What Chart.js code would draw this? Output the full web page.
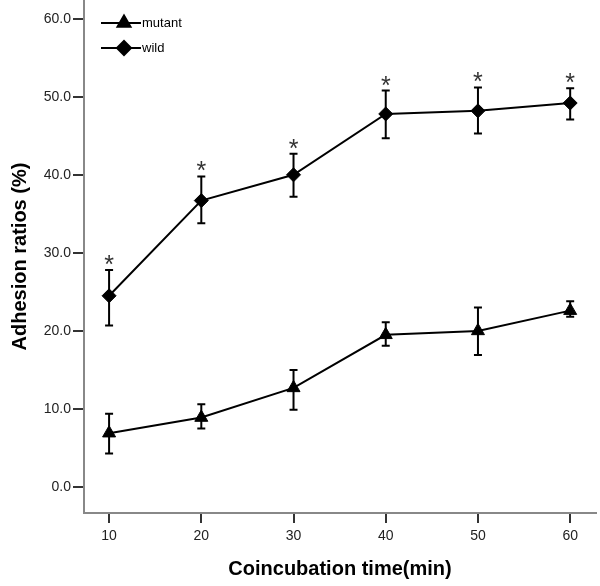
<!DOCTYPE html>
<html>
<head>
<meta charset="utf-8">
<script src="https://cdn.jsdelivr.net/npm/chart.js@4/dist/chart.umd.min.js"></script>
<style>
  body { margin: 0; background: #fff; }
  #wrap { width: 600px; height: 586px; }
</style>
</head>
<body>
<div id="wrap"><canvas id="grafica" width="600" height="586"></canvas></div>
<script>
// datos
const times = [10, 20, 30, 40, 50, 60];
const mutantMean = [6.9, 8.9, 12.7, 19.5, 20.0, 22.6];
const mutantHigh = [9.4, 10.6, 15.0, 21.1, 23.0, 23.8];
const mutantLow = [4.3, 7.5, 9.9, 18.1, 16.9, 21.8];
const wildMean = [24.5, 36.7, 40.0, 47.8, 48.2, 49.2];
const wildHigh = [27.8, 39.8, 42.7, 50.8, 51.2, 51.1];
const wildLow = [20.7, 33.8, 37.2, 44.7, 45.3, 47.1];
const wildSignificant = [true, true, true, true, true, true];
const seriesNames = ["mutant", "wild"];

const FONT = "'Liberation Sans', Arial, sans-serif";

const toPoints = (ys) => times.map((t, i) => ({ x: t, y: ys[i] }));

// barras de error y asteriscos
const errorBars = {
  id: "errorBars",
  afterDatasetsDraw(chart) {
    const ctx = chart.ctx;
    const yScale = chart.scales.y;
    chart.data.datasets.forEach((ds, di) => {
      const meta = chart.getDatasetMeta(di);
      meta.data.forEach((pt, i) => {
        const top = yScale.getPixelForValue(ds.errHigh[i]);
        const bot = yScale.getPixelForValue(ds.errLow[i]);
        ctx.save();
        ctx.strokeStyle = "#000";
        ctx.lineWidth = 2;
        ctx.beginPath();
        ctx.moveTo(pt.x, top); ctx.lineTo(pt.x, bot);
        ctx.moveTo(pt.x - 4, top); ctx.lineTo(pt.x + 4, top);
        ctx.moveTo(pt.x - 4, bot); ctx.lineTo(pt.x + 4, bot);
        ctx.stroke();
        if (ds.stars && ds.stars[i]) {
          ctx.fillStyle = "#333";
          ctx.font = "25px " + FONT;
          ctx.textAlign = "center";
          ctx.textBaseline = "alphabetic";
          ctx.fillText("*", pt.x, top + 3);
        }
        ctx.restore();
      });
    });
  },
};

// leyenda dentro del área
const innerLegend = {
  id: "innerLegend",
  afterDraw(chart) {
    const ctx = chart.ctx;
    const rows = [23, 48];
    chart.data.datasets.forEach((ds, di) => {
      const y = rows[di];
      ctx.save();
      ctx.strokeStyle = "#000";
      ctx.lineWidth = 2;
      ctx.beginPath();
      ctx.moveTo(101, y); ctx.lineTo(141, y);
      ctx.stroke();
      Chart.helpers.drawPoint(ctx, {
        pointStyle: ds.pointStyle, radius: ds.pointRadius, borderWidth: 1,
      }, 124, y);
      ctx.fillStyle = "#000";
      ctx.fill();
      ctx.font = "13px " + FONT;
      ctx.textAlign = "left";
      ctx.textBaseline = "middle";
      ctx.fillText(ds.label, 142, y);
      ctx.restore();
    });
  },
};

new Chart(document.getElementById("grafica"), {
  type: "line",
  data: {
    datasets: [
      {
        label: seriesNames[0],
        data: toPoints(mutantMean),
        errHigh: mutantHigh,
        errLow: mutantLow,
        borderColor: "#000",
        backgroundColor: "#000",
        borderWidth: 2,
        pointStyle: "triangle",
        pointRadius: 7.5,
        pointBorderWidth: 1,
      },
      {
        label: seriesNames[1],
        data: toPoints(wildMean),
        errHigh: wildHigh,
        errLow: wildLow,
        stars: wildSignificant,
        borderColor: "#000",
        backgroundColor: "#000",
        borderWidth: 2,
        pointStyle: "rectRot",
        pointRadius: 7,
        pointBorderWidth: 1,
      },
    ],
  },
  options: {
    responsive: false,
    animation: false,
    layout: { autoPadding: false, padding: { top: 0, right: 4, bottom: 0, left: 0 } },
    plugins: { legend: { display: false }, tooltip: { enabled: false } },
    scales: {
      x: {
        type: "linear",
        min: 7.28,
        max: 62.8,
        afterFit: (s) => { s.height = 73; s.paddingLeft = 0; s.paddingRight = 0; },
        ticks: {
          stepSize: 10,
          includeBounds: false,
          color: "#222",
          font: { family: FONT, size: 14 },
          padding: 5,
          callback: (v) => v.toFixed(0),
        },
        grid: { drawOnChartArea: false, drawTicks: true, tickLength: 10, color: "#333", lineWidth: 2 },
        border: { color: "#888", width: 2 },
        title: {
          display: true,
          text: "Coincubation time(min)",
          color: "#000",
          font: { family: FONT, size: 20, weight: "bold" },
          padding: { top: 0, bottom: 5 },
        },
      },
      y: {
        min: -3.33,
        max: 62.4,
        afterFit: (s) => { s.width = 84; s.paddingTop = 0; s.paddingBottom = 0; },
        ticks: {
          stepSize: 10,
          includeBounds: false,
          color: "#222",
          font: { family: FONT, size: 14 },
          padding: 2,
          callback: (v) => v.toFixed(1),
        },
        grid: { drawOnChartArea: false, drawTicks: true, tickLength: 11, color: "#333", lineWidth: 2 },
        border: { color: "#888", width: 2 },
        title: {
          display: true,
          text: "Adhesion ratios (%)",
          color: "#000",
          font: { family: FONT, size: 20, weight: "bold" },
          padding: { top: 8, bottom: 0 },
        },
      },
    },
  },
  plugins: [errorBars, innerLegend],
});
</script>
</body>
</html>
